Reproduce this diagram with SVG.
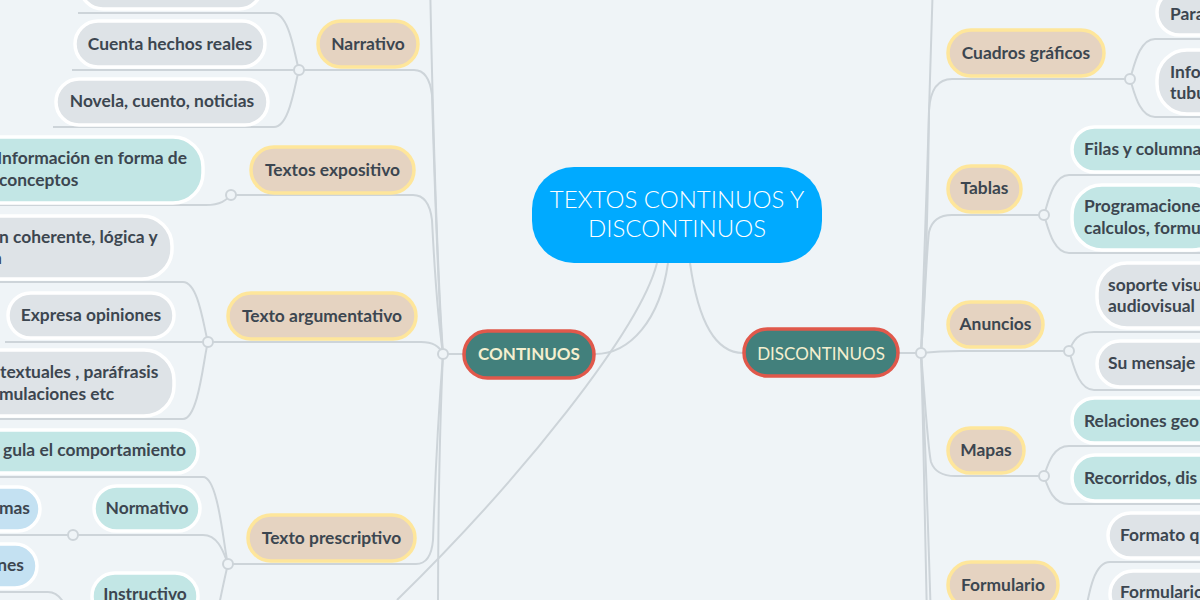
<svg xmlns="http://www.w3.org/2000/svg" width="1200" height="600" viewBox="0 0 1200 600">
<style>
.ln{fill:none;stroke:#cdd4d9;stroke-width:2}
.jn{fill:#eff4f7;stroke:#cdd4d9;stroke-width:2}
.be{fill:#e5d3c1;stroke:#fee69b;stroke-width:3.5}
.gr{fill:#dee3e7;stroke:#ffffff;stroke-width:3.5}
.te{fill:#c2e6e5;stroke:#ffffff;stroke-width:3.5}
.bl{fill:#c4e1f2;stroke:#ffffff;stroke-width:3.5}
.t{font-family:Lato,"Noto Sans",sans-serif;font-size:17.4px;font-weight:700;fill:#3c4650}
.c{text-anchor:middle}
.e{text-anchor:end}
</style>
<rect width="1200" height="600" fill="#eff4f7"/>
<g id="connectors">
<path class="ln" d="M668,263 C660,320 630,354 595,354"/>
<path class="ln" d="M657,263 C640,330 520,480 397,600"/>
<path class="ln" d="M690,263 C698,320 715,353 743,353"/>
<path class="ln" d="M443,354 H463"/>
<path class="ln" d="M443,354 C436,250 432,80 430,-20"/>
<path class="ln" d="M299,70 H414 Q429,70 432,95 C435,200 440,330 443,354"/>
<path class="ln" d="M231,195 H413 Q429,195 432,220 C436,300 441,340 443,354"/>
<path class="ln" d="M208,342 H421 Q438,342 443,354"/>
<path class="ln" d="M228,564 H416 Q431,564 433,540 C436,450 441,380 443,354"/>
<path class="ln" d="M443,354 C440,420 438,500 438,620"/>
<path class="ln" d="M78,13 H273 C290,13 295,58 299,70"/>
<path class="ln" d="M72,70 H299"/>
<path class="ln" d="M53,127 H274 C290,127 295,82 299,70"/>
<path class="ln" d="M0,205 H206 C222,205 227,199 231,195"/>
<path class="ln" d="M0,282 H183 C199,282 204,330 208,342"/>
<path class="ln" d="M5,342 H208"/>
<path class="ln" d="M0,419 H183 C199,419 204,354 208,342"/>
<path class="ln" d="M0,477 H203 C219,477 224,552 228,564"/>
<path class="ln" d="M73,535 H203 C219,535 224,554 228,564"/>
<path class="ln" d="M228,564 C224,580 220,600 214,630"/>
<path class="ln" d="M0,535 H73"/>
<path class="ln" d="M0,592 H48 C62,592 68,610 72,625"/>
<path class="ln" d="M899,353 H921"/>
<path class="ln" d="M921,353 C925,250 930,80 933,-20"/>
<path class="ln" d="M921,353 C925,300 928,200 929,110 Q931,79 952,79 H1130"/>
<path class="ln" d="M921,353 C925,300 927,245 929,232 Q933,215 952,215 H1044"/>
<path class="ln" d="M921,353 Q940,351 960,351 H1069"/>
<path class="ln" d="M921,353 C925,400 928,450 931,462 Q936,476 955,476 H1044"/>
<path class="ln" d="M921,353 C926,450 929,560 931,620"/>
<path class="ln" d="M921,353 C924,450 926,560 927,620"/>
<path class="ln" d="M1130,79 C1134,67 1139,39 1155,39 H1200"/>
<path class="ln" d="M1130,79 C1134,91 1139,117 1155,117 H1200"/>
<path class="ln" d="M1044,215 C1048,203 1053,175 1069,175 H1200"/>
<path class="ln" d="M1044,215 C1048,227 1053,253 1069,253 H1200"/>
<path class="ln" d="M1069,351 C1073,341 1078,332 1094,332 H1200"/>
<path class="ln" d="M1069,351 C1073,363 1078,390 1094,390 H1200"/>
<path class="ln" d="M1044,476 C1048,464 1053,446 1069,446 H1200"/>
<path class="ln" d="M1044,476 C1048,488 1053,504 1069,504 H1200"/>
<path class="ln" d="M1083,625 C1088,600 1092,562 1110,562 H1200"/>
<circle class="jn" cx="443" cy="354" r="5"/>
<circle class="jn" cx="299" cy="70" r="5"/>
<circle class="jn" cx="231" cy="195" r="5"/>
<circle class="jn" cx="208" cy="342" r="5"/>
<circle class="jn" cx="228" cy="564" r="5"/>
<circle class="jn" cx="73" cy="535" r="5"/>
<circle class="jn" cx="921" cy="353" r="5"/>
<circle class="jn" cx="1130" cy="79" r="5"/>
<circle class="jn" cx="1044" cy="215" r="5"/>
<circle class="jn" cx="1069" cy="351" r="5"/>
<circle class="jn" cx="1044" cy="476" r="5"/>
</g>
<g id="root">
<rect x="532" y="167" width="290" height="96" rx="42" fill="#00aaff"/>
<text x="677" y="208" text-anchor="middle" font-family="Lato,'Noto Sans',sans-serif" font-size="24" font-weight="300" fill="#ffffff">TEXTOS CONTINUOS Y</text>
<text x="677" y="237" text-anchor="middle" font-family="Lato,'Noto Sans',sans-serif" font-size="24" font-weight="300" fill="#ffffff">DISCONTINUOS</text>
</g>
<g id="continuos">
<rect x="464" y="331" width="130" height="47" rx="23.5" fill="#42807c" stroke="#e0584b" stroke-width="3.5"/>
<text x="529" y="360" text-anchor="middle" font-family="Lato,'Noto Sans',sans-serif" font-size="17" font-weight="700" fill="#f4efcf">CONTINUOS</text>
</g>
<g id="discontinuos">
<rect x="744" y="329" width="154" height="47" rx="23.5" fill="#42807c" stroke="#e0584b" stroke-width="3.5"/>
<text x="821" y="359.5" text-anchor="middle" font-family="Lato,'Noto Sans',sans-serif" font-size="17" font-weight="400" fill="#f4efcf">DISCONTINUOS</text>
</g>
<g id="narrativo"><rect class="be" x="318" y="21" width="100" height="46" rx="23"/><text class="t c" x="368" y="50">Narrativo</text></g>
<g id="n-top"><rect class="gr" x="80" y="-40" width="182" height="49" rx="23"/></g>
<g id="n-cuenta"><rect class="gr" x="75" y="21" width="190" height="46" rx="23"/><text class="t c" x="170" y="50">Cuenta hechos reales</text></g>
<g id="n-novela"><rect class="gr" x="56" y="79" width="212" height="46" rx="23"/><text class="t c" x="162" y="107">Novela, cuento, noticias</text></g>
<g id="expositivo"><rect class="be" x="251" y="147" width="163" height="46" rx="23"/><text class="t c" x="332.5" y="176">Textos expositivo</text></g>
<g id="e-info"><rect class="te" x="-40" y="137" width="243" height="66" rx="30"/><text class="t" x="-3" y="164">Información en forma de</text><text class="t" x="-1" y="186">conceptos</text></g>
<g id="argumentativo"><rect class="be" x="228" y="293" width="188" height="46" rx="23"/><text class="t c" x="322" y="321.5">Texto argumentativo</text></g>
<g id="a-coherente"><rect class="gr" x="-40" y="216" width="212" height="63" rx="30"/><text class="t" x="-1" y="243">n coherente, lógica y</text><text class="t" x="-7" y="264">a</text></g>
<g id="a-expresa"><rect class="gr" x="8" y="293" width="166" height="45" rx="22.5"/><text class="t c" x="91" y="321">Expresa opiniones</text></g>
<g id="a-textuales"><rect class="gr" x="-40" y="350" width="214" height="66" rx="30"/><text class="t" x="0" y="378">textuales , paráfrasis</text><text class="t" x="-1" y="400">mulaciones etc</text></g>
<g id="prescriptivo"><rect class="be" x="248" y="515" width="167" height="46" rx="23"/><text class="t c" x="331.5" y="543.5">Texto prescriptivo</text></g>
<g id="p-regula"><rect class="te" x="-40" y="430" width="238" height="43" rx="21.5"/><text class="t e" x="186" y="456">gula el comportamiento</text></g>
<g id="p-normativo"><rect class="te" x="94" y="486" width="106" height="45" rx="22.5"/><text class="t c" x="147" y="513.5">Normativo</text></g>
<g id="p-instructivo"><rect class="te" x="92" y="573" width="106" height="46" rx="23"/><text class="t c" x="145" y="600">Instructivo</text></g>
<g id="n-mas"><rect class="bl" x="-40" y="487" width="80" height="44" rx="22"/><text class="t e" x="30" y="514">mas</text></g>
<g id="i-nes"><rect class="bl" x="-40" y="544" width="77" height="44" rx="22"/><text class="t e" x="24" y="570.5">nes</text></g>
<g id="cuadros"><rect class="be" x="948" y="30" width="156" height="46" rx="23"/><text class="t c" x="1026" y="58.5">Cuadros gráficos</text></g>
<g id="c-para"><rect class="gr" x="1157" y="-10" width="100" height="45" rx="22.5"/><text class="t" x="1170" y="19.5">Para</text></g>
<g id="c-info"><rect class="gr" x="1157" y="50" width="100" height="64" rx="30"/><text class="t" x="1170" y="78">Info</text><text class="t" x="1170" y="99">tubu</text></g>
<g id="tablas"><rect class="be" x="948" y="166" width="73" height="46" rx="23"/><text class="t c" x="984.5" y="194">Tablas</text></g>
<g id="t-filas"><rect class="te" x="1072" y="127" width="150" height="45" rx="22.5"/><text class="t" x="1084" y="155">Filas y columna</text></g>
<g id="t-prog"><rect class="te" x="1072" y="185" width="150" height="65" rx="30"/><text class="t" x="1084" y="212">Programacione</text><text class="t" x="1084" y="234">calculos, formu</text></g>
<g id="anuncios"><rect class="be" x="948" y="302" width="95" height="45" rx="22.5"/><text class="t c" x="995.5" y="330">Anuncios</text></g>
<g id="an-soporte"><rect class="gr" x="1097" y="263" width="150" height="65" rx="30"/><text class="t" x="1108" y="291">soporte visu</text><text class="t" x="1108" y="312">audiovisual</text></g>
<g id="an-mensaje"><rect class="gr" x="1097" y="341" width="150" height="46" rx="23"/><text class="t" x="1108" y="369">Su mensaje</text></g>
<g id="mapas"><rect class="be" x="948" y="428" width="76" height="45" rx="22.5"/><text class="t c" x="986" y="456">Mapas</text></g>
<g id="m-rel"><rect class="te" x="1072" y="398" width="150" height="45" rx="22.5"/><text class="t" x="1084" y="426.5">Relaciones geo</text></g>
<g id="m-rec"><rect class="te" x="1072" y="455" width="150" height="46" rx="23"/><text class="t" x="1084" y="484">Recorridos, dis</text></g>
<g id="formulario"><rect class="be" x="948" y="562" width="110" height="46" rx="23"/><text class="t c" x="1003" y="590.5">Formulario</text></g>
<g id="f-formato"><rect class="gr" x="1108" y="513" width="150" height="45" rx="22.5"/><text class="t" x="1120" y="541">Formato q</text></g>
<g id="f-formulario"><rect class="gr" x="1110" y="571" width="150" height="46" rx="23"/><text class="t" x="1120" y="598">Formulario</text></g>
</svg>
